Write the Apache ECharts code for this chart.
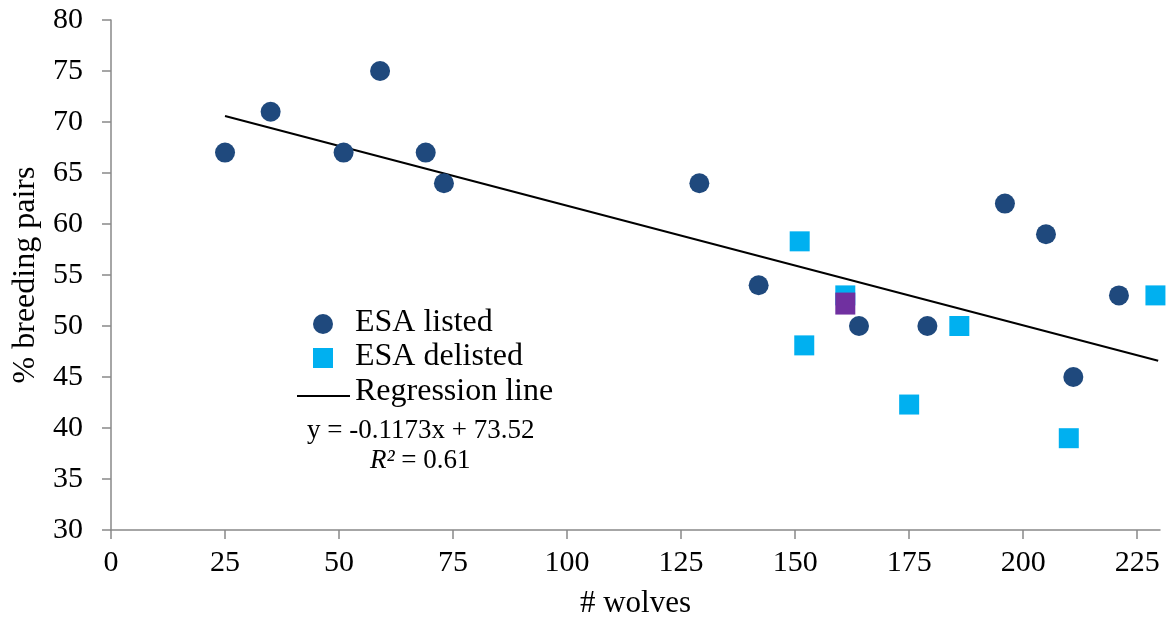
<!DOCTYPE html>
<html>
<head>
<meta charset="utf-8">
<script src="https://cdn.jsdelivr.net/npm/echarts@6/dist/echarts.min.js"></script>
<style>
  html, body { margin: 0; padding: 0; background: #fff; }
  #chart { width: 1167px; height: 623px; }
</style>
</head>
<body>
<div id="chart"></div>
<script>
// Wolf counts vs. share of packs that are breeding pairs
const listedWolves = [25, 35, 51, 59, 69, 73, 129, 142, 164, 179, 196, 205, 211, 221];
const listedPairs  = [67, 71, 67, 75, 67, 64, 64, 54, 50, 50, 62, 59, 45, 53];

const delistedWolves = [151, 152, 161, 175, 186, 210, 229];
const delistedPairs  = [58.3, 48.1, 53, 42.3, 50, 39, 53];

// Highlighted delisted year
const highlightWolves = [161];
const highlightPairs  = [52.2];

// Fitted regression: y = slope * x + intercept, drawn over the observed range
const regSlope = [-0.1173];
const regIntercept = [73.52];
const regRange = [25, 229.6];

const xTicks = [0, 25, 50, 75, 100, 125, 150, 175, 200, 225];
const yTicks = [30, 35, 40, 45, 50, 55, 60, 65, 70, 75, 80];

const legendNames = ['ESA listed', 'ESA delisted', 'Regression line'];

const zip = (xs, ys) => xs.map((x, i) => [x, ys[i]]);
const regLine = regRange.map(x => [x, regSlope[0] * x + regIntercept[0]]);

const FONT = 'Liberation Serif';
const AXIS_GRAY = '#898989';
const NAVY = '#1F497D';
const CYAN = '#00B0F0';
const PURPLE = '#7030A0';

const legendFont = '32px "Liberation Serif"';

const chart = echarts.init(document.getElementById('chart'));
chart.setOption({
  animation: false,
  textStyle: { fontFamily: FONT },
  grid: { left: 111, right: 7, top: 20, bottom: 93, containLabel: false, outerBoundsMode: 'none' },
  xAxis: {
    type: 'value', min: 0, max: 230, interval: 25,
    name: '# wolves', nameLocation: 'middle', nameGap: 58,
    nameTextStyle: { fontFamily: FONT, fontSize: 31, color: '#000' },
    axisLine: { show: true, lineStyle: { color: AXIS_GRAY, width: 1.5 } },
    axisTick: { show: true, length: 9, customValues: xTicks, lineStyle: { color: AXIS_GRAY, width: 1.5 } },
    axisLabel: { customValues: xTicks, fontFamily: FONT, fontSize: 30, color: '#000', margin: 18 },
    splitLine: { show: false }
  },
  yAxis: {
    type: 'value', min: 30, max: 80, interval: 5,
    name: '% breeding pairs', nameLocation: 'middle', nameGap: 69, nameRotate: 90,
    nameTextStyle: { fontFamily: FONT, fontSize: 32, color: '#000' },
    axisLine: { show: true, lineStyle: { color: AXIS_GRAY, width: 1.5 } },
    axisTick: { show: true, length: 9, customValues: yTicks, lineStyle: { color: AXIS_GRAY, width: 1.5 } },
    axisLabel: { customValues: yTicks, fontFamily: FONT, fontSize: 30, color: '#000', margin: 28 },
    splitLine: { show: false }
  },
  series: [
    {
      name: legendNames[2], type: 'line', data: regLine,
      showSymbol: false, symbol: 'none', silent: true,
      lineStyle: { color: '#000', width: 2 }, z: 1
    },
    {
      name: legendNames[0], type: 'scatter', data: zip(listedWolves, listedPairs),
      symbol: 'circle', symbolSize: 20, itemStyle: { color: NAVY, opacity: 1 }, z: 3
    },
    {
      name: legendNames[1], type: 'scatter', data: zip(delistedWolves, delistedPairs),
      symbol: 'rect', symbolSize: 20, itemStyle: { color: CYAN, opacity: 1 }, z: 3
    },
    {
      name: 'highlight', type: 'scatter', data: zip(highlightWolves, highlightPairs),
      symbol: 'rect', symbolSize: [20, 22], itemStyle: { color: PURPLE, opacity: 1 }, z: 4
    }
  ],
  graphic: [
    // legend keys
    { type: 'circle', shape: { cx: 323, cy: 324, r: 10 }, style: { fill: NAVY } },
    { type: 'rect', shape: { x: 313, y: 348, width: 20, height: 20 }, style: { fill: CYAN } },
    { type: 'line', shape: { x1: 297, y1: 396, x2: 350, y2: 396 }, style: { stroke: '#000', lineWidth: 2 } },
    { type: 'text', x: 355, y: 323, style: { text: legendNames[0], font: legendFont, fill: '#000', verticalAlign: 'middle' } },
    { type: 'text', x: 355, y: 357, style: { text: legendNames[1], font: legendFont, fill: '#000', verticalAlign: 'middle' } },
    { type: 'text', x: 355, y: 392, style: { text: legendNames[2], font: legendFont, fill: '#000', verticalAlign: 'middle' } },
    // regression equation and fit
    {
      type: 'text', x: 307, y: 431,
      style: { text: 'y = -0.1173x + 73.52', font: '27px "Liberation Serif"', fill: '#000', verticalAlign: 'middle' }
    },
    {
      type: 'text', x: 370, y: 461,
      style: {
        text: '{i|R²} = 0.61',
        font: '27px "Liberation Serif"', fill: '#000', verticalAlign: 'middle',
        rich: { i: { fontFamily: FONT, fontSize: 27, fontStyle: 'italic', fill: '#000' } }
      }
    }
  ]
});
</script>
</body>
</html>
